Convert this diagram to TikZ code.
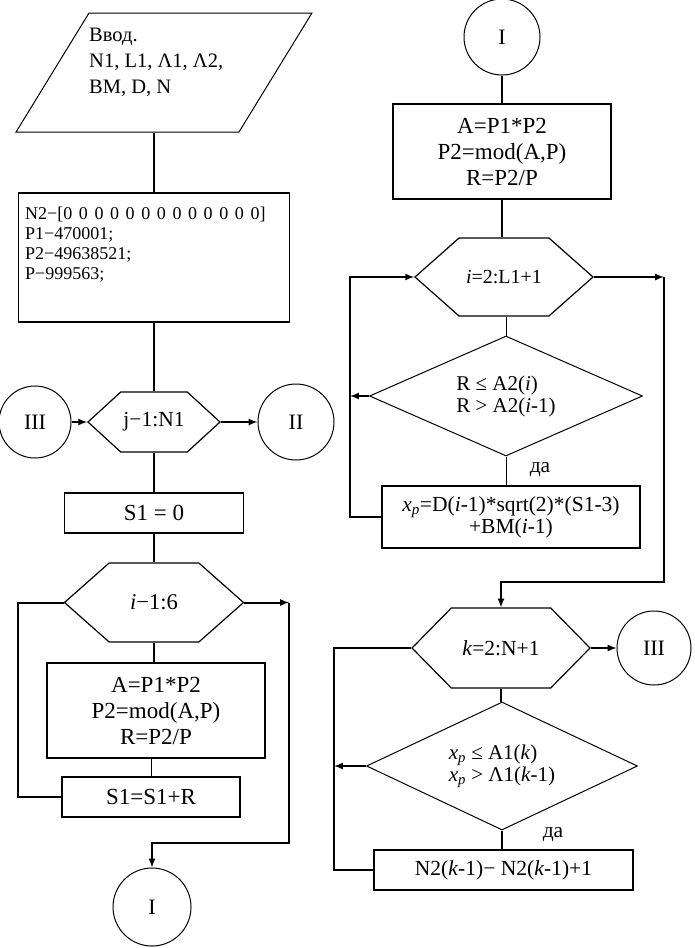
\documentclass[tikz,border=0pt]{standalone}
\usepackage{fontspec}
\setmainfont{Liberation Serif}
\usetikzlibrary{shapes.geometric,shapes.symbols}
\newcommand{\zgap}{\hspace{6.6pt}}

\begin{document}
\begin{tikzpicture}[x=1pt, y=-1pt, >=latex,
    txt/.style={font=\fontsize{21.5}{26}\selectfont},
    big/.style={font=\fontsize{23}{26}\selectfont},
    blk/.style={draw, line width=1.5pt, rectangle, inner sep=0pt, txt, align=center},
    hexa/.style={draw, line width=1.2pt, signal, signal to=west and east, inner sep=0pt, txt},
    rhomb/.style={draw, line width=1pt, diamond, aspect=2.2, inner sep=0pt, align=left,
      font=\fontsize{21}{22}\selectfont},
    conn/.style={draw, circle, line width=1pt, inner sep=0pt, font=\fontsize{22}{26}\selectfont},
    flow/.style={line width=2pt},
    thin/.style={line width=1pt}]
    \useasboundingbox (0,0) rectangle (695,948);

    % left column
    \node[draw, line width=1pt, trapezium, trapezium left angle=63, trapezium right angle=117,
      trapezium stretches=true, minimum width=296pt, minimum height=119pt, inner sep=2pt]
      (inp) at (164,72.5) {\phantom{x}};
    \node[anchor=north west, align=left, inner sep=0pt, font=\fontsize{20.5}{26}\selectfont]
      (inpTxt) at (89,28) {Ввод.\\N1, L1, Λ1, Λ2,\\BM, D, N};

    \node[blk, minimum width=271pt, minimum height=129pt] (init) at (154,257.5) {};
    \node[anchor=north west, align=left, inner sep=0pt, font=\fontsize{18}{20}\selectfont]
      (initTxt) at (25,207) {N2−[0\zgap0\zgap0\zgap0\zgap0\zgap0\zgap0\zgap0\zgap0\zgap0\zgap0\zgap0\zgap0]\\P1−470001;\\P2−49638521;\\P−999563;};

    \node[hexa, signal pointer angle=85, minimum width=132pt, minimum height=60pt] (jloop) at (154,422) {j−1:N1};
    \node[conn, minimum size=72pt] (c3L) at (35,422) {III};
    \node[conn, minimum size=76pt] (c2L) at (296,422) {II};
    \node[blk, big, minimum width=179pt, minimum height=40pt] (s1zero) at (154,513) {S1 = 0};
    \node[hexa, signal pointer angle=83, minimum width=179pt, minimum height=79pt,
      font=\fontsize{22.5}{26}\selectfont] (iloop) at (154,602.5) {\textit{i}−1:6};
    \node[blk, big, minimum width=218pt, minimum height=95pt] (calcL) at (156,710.5) {A=P1*P2\\P2=mod(A,P)\\R=P2/P};
    \node[blk, big, minimum width=178pt, minimum height=40pt] (sumL) at (151,797) {S1=S1+R};
    \node[conn, minimum size=78pt] (c1L) at (152,907) {I};

    \draw[flow] (init.north |- inp.south) -- (init.north);
    \draw[flow] (init.south) -- (jloop.north);
    \draw[flow,->] (c3L.east) -- (jloop.west);
    \draw[flow,->] (jloop.east) -- (c2L.west);
    \draw[flow] (jloop.south) -- (s1zero.north);
    \draw[flow] (s1zero.south) -- (iloop.north);
    \draw[flow] (iloop.south) -- (iloop.south |- calcL.north);
    \draw[thin] (sumL.north) -- (sumL.north |- calcL.south);
    \coordinate (lpL) at (18,700);
    \draw[flow] (sumL.west) -| (lpL) |- (iloop.west);
    \coordinate (exL) at (289,602.5);
    \coordinate (dnL) at (289,843);
    \draw[flow,->] (iloop.east) -- (exL);
    \draw[flow,->] (exL) -- (dnL) -| (c1L.north);

    % right column
    \node[conn, minimum size=76pt] (c1R) at (502,37) {I};
    \node[blk, big, minimum width=218pt, minimum height=95pt] (calcR) at (502,151.5) {A=P1*P2\\P2=mod(A,P)\\R=P2/P};
    \node[hexa, signal pointer angle=83, minimum width=178pt, minimum height=78pt,
      font=\fontsize{20}{26}\selectfont] (iloop2) at (504,277) {\textit{i}=2:L1+1};
    \node[rhomb, minimum width=273pt, minimum height=120pt] (cmp1) at (506,396)
      {R ≤ A2(\textit{i})\\R > A2(\textit{i}-1)};
    \node[blk, minimum width=258pt, minimum height=62pt, font=\fontsize{21.5}{22}\selectfont] (xp) at (511,517)
      {\textit{x}\textsubscript{\textit{p}}=D(\textit{i}-1)*sqrt(2)*(S1-3)\\+BM(\textit{i}-1)};
    \node[txt] (yes1) at (540,470) {да};
    \node[hexa, signal pointer angle=91, minimum width=178pt, minimum height=80pt] (kloop) at (501,648) {\textit{k}=2:N+1};
    \node[conn, minimum size=74pt] (c3R) at (654,648) {III};
    \node[rhomb, minimum width=271pt, minimum height=128pt] (cmp2) at (502,766)
      {\textit{x}\textsubscript{\textit{p}} ≤ A1(\textit{k})\\\textit{x}\textsubscript{\textit{p}} > Λ1(\textit{k}-1)};
    \node[blk, minimum width=259pt, minimum height=40pt] (cnt) at (503.5,870) {N2(\textit{k}-1)− N2(\textit{k}-1)+1};
    \node[txt] (yes2) at (553,835) {да};

    \draw[flow] (c1R.south) -- (c1R.south |- calcR.north);
    \draw[flow] (calcR.south) -- (calcR.south |- iloop2.north);
    \draw[thin] (cmp1.north |- iloop2.south) -- (cmp1.north);
    \draw[thin] (cmp1.south) -- (cmp1.south |- xp.north);
    \coordinate (lpR) at (350,400);
    \draw[flow,->] (xp.west) -| (lpR) |- (iloop2.west);
    \draw[flow,->] (cmp1.west) -- (cmp1.west -| lpR);
    \coordinate (exR) at (664,277);
    \coordinate (dnR) at (664,582);
    \draw[flow,->] (iloop2.east) -- (exR);
    \draw[flow,->] (exR) -- (dnR) -| (kloop.north);
    \draw[flow,->] (kloop.east) -- (c3R.west);
    \draw[flow] (kloop.south) -- (kloop.south |- cmp2.north);
    \draw[flow] (cmp2.south) -- (cmp2.south |- cnt.north);
    \coordinate (lpK) at (334,760);
    \draw[flow] (cnt.west) -| (lpK) |- (kloop.west);
    \draw[flow,->] (cmp2.west) -- (cmp2.west -| lpK);
\end{tikzpicture}
\end{document}
